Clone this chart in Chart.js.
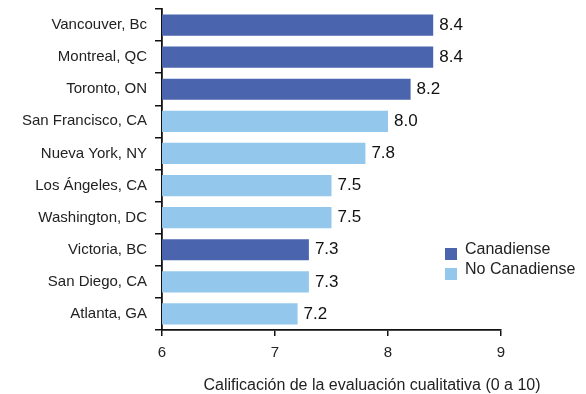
<!DOCTYPE html>
<html><head><meta charset="utf-8">
<script src="https://cdn.jsdelivr.net/npm/chart.js@4"></script>
<style>html,body{margin:0;padding:0;background:#fff}#wrap{width:586px;height:394px}</style>
</head><body><div id="wrap"><canvas id="c" width="586" height="394"></canvas></div>
<script>
const categories = ["Vancouver, Bc","Montreal, QC","Toronto, ON","San Francisco, CA","Nueva York, NY","Los Ángeles, CA","Washington, DC","Victoria, BC","San Diego, CA","Atlanta, GA"];
const scores = [8.4,8.4,8.2,8.0,7.8,7.5,7.5,7.3,7.3,7.2];
const isCanadian = [true,true,true,false,false,false,false,true,false,false];
const seriesLabels = ["Canadiense","No Canadiense"];
const xTicks = [6,7,8,9];
const axisTitle = "Calificación de la evaluación cualitativa (0 a 10)";

const DARK = "#4a64ae", LIGHT = "#93c8ec";
const FONT = "'Liberation Sans', Arial, Helvetica, sans-serif";

const canData = scores.map((v,i)=> isCanadian[i] ? v : null);
const nonData = scores.map((v,i)=> isCanadian[i] ? null : v);

const valueLabels = {
  id:'valueLabels',
  afterDatasetsDraw(chart){
    const ctx = chart.ctx;
    ctx.save();
    ctx.font = "17px " + FONT;
    ctx.fillStyle = "#111";
    ctx.textBaseline = "middle";
    ctx.textAlign = "left";
    chart.data.datasets.forEach((ds,di)=>{
      const meta = chart.getDatasetMeta(di);
      meta.data.forEach((el,i)=>{
        if (ds.data[i] == null) return;
        ctx.fillText(ds.data[i].toFixed(1), el.x + 6, el.y);
      });
    });
    ctx.restore();
  }
};

const customLegend = {
  id:'customLegend',
  afterDraw(chart){
    const ctx = chart.ctx;
    ctx.save();
    ctx.font = "16px " + FONT;
    ctx.textBaseline = "middle";
    ctx.textAlign = "left";
    chart.data.datasets.forEach((ds,i)=>{
      const y = 254 + i*20;
      ctx.fillStyle = ds.backgroundColor;
      ctx.fillRect(445, y-6, 12, 12);
      ctx.fillStyle = "#222";
      ctx.fillText(ds.label, 465, y-4);
    });
    ctx.font = "16px " + FONT;
    ctx.textAlign = "center";
    ctx.fillStyle = "#222";
    ctx.fillText(axisTitle, 372, 386);
    ctx.restore();
  }
};

new Chart(document.getElementById('c'), {
  type:'bar',
  data:{
    labels: categories,
    datasets:[
      {label: seriesLabels[0], data: canData, backgroundColor: DARK, barPercentage:0.66, categoryPercentage:1, grouped:false},
      {label: seriesLabels[1], data: nonData, backgroundColor: LIGHT, barPercentage:0.66, categoryPercentage:1, grouped:false}
    ]
  },
  options:{
    indexAxis:'y',
    responsive:false,
    animation:false,
    devicePixelRatio:1,
    layout:{padding:{top:9,right:85,left:0,bottom:0}},
    plugins:{legend:{display:false}, tooltip:{enabled:false}},
    scales:{
      x:{
        min:6, max:9,
        afterBuildTicks(scale){ scale.ticks = xTicks.map(v=>({value:v})); },
        afterFit(scale){ scale.height = 64; scale.paddingLeft = 0; scale.paddingRight = 0; },
        grid:{drawOnChartArea:false, drawTicks:true, tickLength:6, color:"#111", lineWidth:1.5},
        border:{display:true, color:"#111", width:1.8},
        ticks:{color:"#222", font:{family:FONT, size:15}, padding:8}
      },
      y:{
        afterFit(scale){ scale.width = 162; scale.paddingTop = 0; scale.paddingBottom = 0; },
        grid:{offset:true, drawOnChartArea:false, drawTicks:true, tickLength:7, color:"#111", lineWidth:1.5},
        border:{display:true, color:"#111", width:1.8},
        ticks:{color:"#222", font:{family:FONT, size:15}, padding:8}
      }
    }
  },
  plugins:[valueLabels, customLegend]
});
</script></body></html>
